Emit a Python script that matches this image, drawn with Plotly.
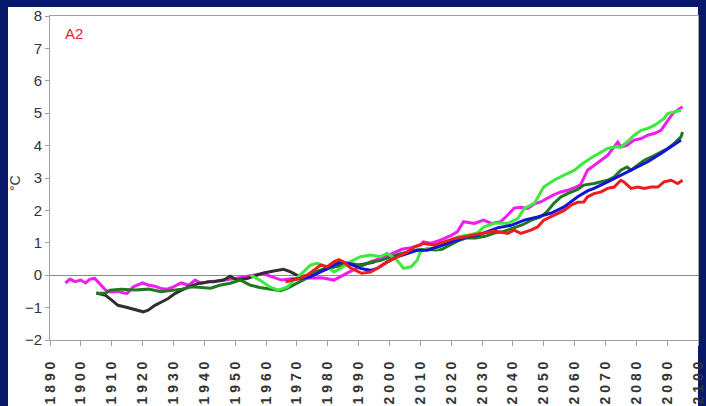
import plotly.graph_objects as go

# ---- data: temperature anomaly (°C) per model run, scenario A2 ----
magenta_years = [1895, 1896.5, 1898, 1900, 1901.5, 1903, 1904.5, 1906, 1908, 1909.5, 1912, 1914, 1915, 1917, 1920,
                 1922, 1924, 1926, 1928, 1930, 1932.5, 1935, 1937, 1939, 1941.5, 1944, 1947, 1950, 1953, 1956,
                 1959, 1962, 1965, 1969, 1974, 1978, 1982, 1985, 1988, 1991, 1995, 1998, 2000.5, 2004, 2007,
                 2010, 2011, 2013.5, 2016.5, 2020, 2022, 2024, 2027.5, 2030.5, 2033, 2036, 2038.3, 2040.4,
                 2042.6, 2044.8, 2047, 2049, 2051, 2053, 2055.6, 2057.7, 2060, 2062, 2064.2, 2066.3, 2068.6,
                 2070.7, 2072.8, 2074, 2075, 2077, 2079.3, 2081.6, 2083.7, 2086, 2088, 2090.2, 2091.8, 2093.4, 2095]
magenta_vals = [-0.24, -0.12, -0.2, -0.15, -0.24, -0.12, -0.1, -0.26, -0.46, -0.52, -0.5, -0.55, -0.56, -0.36, -0.24,
                -0.31, -0.34, -0.41, -0.43, -0.36, -0.24, -0.31, -0.15, -0.25, -0.2, -0.18, -0.15, -0.1, -0.05, 0.0,
                0.05, -0.05, -0.15, -0.1, -0.1, -0.08, -0.15, 0.0, 0.15, 0.3, 0.45, 0.55, 0.65, 0.8, 0.85,
                0.93, 1.03, 0.99, 1.08, 1.23, 1.34, 1.65, 1.6, 1.7, 1.6, 1.65, 1.85, 2.07,
                2.1, 2.06, 2.2, 2.26, 2.37, 2.47, 2.57, 2.62, 2.7, 2.8, 3.24, 3.4, 3.55,
                3.7, 3.96, 4.11, 3.96, 4.01, 4.17, 4.22, 4.32, 4.38, 4.47, 4.78, 4.99, 5.09, 5.2]

black_years = [1905, 1908, 1910, 1912, 1914.4, 1916.5, 1918.6, 1920.2, 1921.8, 1924, 1926.3, 1928.3, 1930.6,
               1932.7, 1934.8, 1938, 1941.4, 1943, 1946.3, 1948.4, 1950.6, 1953.9, 1957, 1959.2, 1962.5,
               1965.7, 1968, 1971, 1974, 1977, 1980, 1983, 1986, 1989, 1992, 1995]
black_vals = [-0.55, -0.62, -0.77, -0.93, -0.98, -1.03, -1.1, -1.13, -1.08, -0.93, -0.82, -0.72, -0.56,
              -0.46, -0.36, -0.26, -0.2, -0.2, -0.15, -0.03, -0.15, -0.1, 0.0, 0.07, 0.13,
              0.18, 0.1, -0.05, 0.0, 0.1, 0.2, 0.3, 0.35, 0.3, 0.35, 0.4]

dkgreen_years = [1905, 1908, 1909.5, 1913, 1917.6, 1922, 1926, 1929.5, 1932.7, 1936, 1939, 1942, 1945, 1948.4,
                 1951.7, 1955, 1958, 1961.4, 1964.7, 1967, 1970, 1973, 1976, 1979, 1982, 1985, 1988, 1991,
                 1994, 1997, 2000, 2003, 2006, 2009, 2012, 2015, 2017, 2019, 2022, 2025, 2028, 2031, 2034,
                 2037, 2040, 2043, 2046, 2049, 2051, 2053.3, 2055.6, 2057.7, 2061, 2063, 2066.3, 2068.6,
                 2070.7, 2072.8, 2075, 2077, 2078.3, 2080.5, 2082.6, 2086, 2088, 2090.2, 2092.3, 2094.5, 2095]
dkgreen_vals = [-0.56, -0.56, -0.46, -0.43, -0.46, -0.43, -0.51, -0.48, -0.43, -0.36, -0.38, -0.4, -0.31, -0.25,
                -0.15, -0.31, -0.38, -0.44, -0.48, -0.4, -0.25, -0.1, 0.1, 0.2, 0.25, 0.3, 0.35, 0.3,
                0.4, 0.45, 0.55, 0.65, 0.72, 0.78, 0.8, 0.78, 0.8, 0.9, 1.05, 1.15, 1.15, 1.2, 1.3,
                1.35, 1.45, 1.55, 1.7, 1.8, 1.95, 2.22, 2.42, 2.52, 2.65, 2.78, 2.83, 2.88,
                2.93, 3.03, 3.24, 3.34, 3.24, 3.4, 3.55, 3.7, 3.81, 3.91, 4.07, 4.27, 4.42]

lime_years = [1955, 1958, 1961, 1964, 1967, 1969, 1971, 1974.4, 1976.6, 1979.8, 1982, 1984, 1987.4, 1990.6,
              1994, 1997, 1999.3, 2002.5, 2004.6, 2007, 2009, 2010, 2012.3, 2015.5, 2018.8, 2022, 2025,
              2028.5, 2030.6, 2034, 2038.3, 2041.6, 2043.7, 2047, 2050, 2053.3, 2056.6, 2060, 2062, 2065.3,
              2068.6, 2070.7, 2072.8, 2075, 2077, 2079.3, 2081.6, 2083.7, 2086, 2088, 2089, 2090.2, 2092.3, 2094.5]
lime_vals = [0.0, -0.15, -0.35, -0.46, -0.36, -0.15, 0.0, 0.31, 0.37, 0.26, 0.1, 0.2, 0.42, 0.57,
             0.62, 0.57, 0.68, 0.46, 0.21, 0.26, 0.46, 0.72, 0.83, 0.83, 0.99, 1.18, 1.23,
             1.3, 1.49, 1.6, 1.6, 1.75, 2.06, 2.22, 2.72, 2.93, 3.09, 3.24, 3.4, 3.62,
             3.8, 3.91, 3.96, 3.96, 4.11, 4.32, 4.47, 4.53, 4.63, 4.78, 4.84, 4.99, 5.04, 5.09]

blue_years = [1968, 1971, 1974.4, 1977.7, 1981, 1984.2, 1987.4, 1990.6, 1993.9, 1996, 1999.3, 2002.5, 2005.8,
              2009, 2012.3, 2015.5, 2018.8, 2022, 2025, 2028.5, 2031.8, 2035, 2039.4, 2043.7, 2048, 2052.3,
              2056.6, 2061, 2064.2, 2066.3, 2070.7, 2075, 2079.3, 2083.7, 2088, 2091.3, 2094.5]
blue_vals = [-0.15, -0.1, -0.05, 0.1, 0.26, 0.41, 0.35, 0.21, 0.15, 0.21, 0.41, 0.57, 0.67,
             0.77, 0.77, 0.87, 0.98, 1.08, 1.18, 1.23, 1.34, 1.46, 1.54, 1.7, 1.8, 1.91,
             2.11, 2.42, 2.6, 2.68, 2.88, 3.09, 3.3, 3.5, 3.76, 3.96, 4.17]

red_years = [1966.3, 1969, 1971, 1973.3, 1975.4, 1977.7, 1979.8, 1982, 1983.6, 1985.2, 1987.4, 1989.6, 1991,
             1993.9, 1996, 1999.3, 2002.5, 2005.8, 2008, 2011, 2014.4, 2017.6, 2020.9, 2024, 2027.4, 2030.6,
             2034, 2038.3, 2040.4, 2042.6, 2045.8, 2048, 2050, 2052.3, 2054.5, 2056.6, 2058.8, 2061, 2063,
             2064.2, 2066.3, 2068.6, 2070.7, 2072.8, 2075, 2076, 2078.3, 2080.5, 2082.6, 2084.8, 2087, 2089,
             2091.3, 2093.4, 2095]
red_vals = [-0.2, -0.15, -0.1, 0.0, 0.15, 0.31, 0.26, 0.41, 0.48, 0.41, 0.22, 0.12, 0.06,
            0.1, 0.21, 0.41, 0.57, 0.72, 0.87, 0.98, 0.93, 1.03, 1.13, 1.18, 1.23, 1.3,
            1.36, 1.29, 1.39, 1.29, 1.39, 1.49, 1.7, 1.8, 1.91, 2.0, 2.16, 2.25, 2.26,
            2.42, 2.52, 2.57, 2.68, 2.72, 2.93, 2.88, 2.68, 2.72, 2.68, 2.72, 2.72, 2.88,
            2.93, 2.83, 2.93]

decades = list(range(1890, 2101, 10))
decade_labels = [" ".join(str(d)) for d in decades]
y_ticks = list(range(-2, 9))

series = [
    (magenta_years, magenta_vals, "#f01cf0"),
    (black_years, black_vals, "#303030"),
    (dkgreen_years, dkgreen_vals, "#1f7a1f"),
    (lime_years, lime_vals, "#3ee83e"),
    (blue_years, blue_vals, "#1414d8"),
    (red_years, red_vals, "#ee1c1c"),
]

fig = go.Figure()
for xs, ys, col in series:
    fig.add_trace(go.Scatter(x=xs, y=ys, mode="lines",
                             line=dict(color=col, width=3), showlegend=False, hoverinfo="skip"))

axis_grey = "#a0a0a0"
fig.update_layout(
    width=706, height=406,
    margin=dict(l=50, r=8, t=16, b=66),
    paper_bgcolor="#08196c",
    plot_bgcolor="white",
    font=dict(family="Liberation Sans, Arial, sans-serif", color="#333333"),
    xaxis=dict(range=[1890, 2100], tickvals=decades, ticktext=decade_labels,
               tickangle=-90, ticks="outside", ticklen=5, tickcolor=axis_grey,
               ticklabelstandoff=10, automargin=False,
               showline=True, linecolor=axis_grey, linewidth=1, mirror=True,
               showgrid=False, zeroline=False,
               tickfont=dict(size=14, color="#333333", weight="bold",
                             family="Liberation Sans, Arial, sans-serif"),
               fixedrange=True),
    yaxis=dict(range=[-2, 8], tickvals=y_ticks, ticks="outside", ticklen=4, tickcolor=axis_grey,
               automargin=False,
               showline=True, linecolor=axis_grey, linewidth=1, mirror=True,
               showgrid=False, zeroline=True, zerolinecolor="#8c8c8c", zerolinewidth=1,
               tickfont=dict(size=15, color="#333333"), fixedrange=True),
    shapes=[dict(type="rect", xref="paper", yref="paper", layer="below",
                 x0=-42 / 648, x1=1.0, y0=-66 / 324, y1=1 + 9 / 324,
                 fillcolor="white", line=dict(width=0))],
    annotations=[
        dict(text="A2", xref="paper", yref="paper", x=13 / 648, y=(340 - 33) / 324,
             xanchor="left", yanchor="middle", showarrow=False,
             font=dict(size=15, color="#e8262b")),
        dict(text="°C", xref="paper", yref="paper", x=-35 / 648, y=(340 - 183) / 324,
             xanchor="center", yanchor="middle", textangle=-90, showarrow=False,
             font=dict(size=14, color="#333333")),
    ],
)

fig.write_html("out.html")
